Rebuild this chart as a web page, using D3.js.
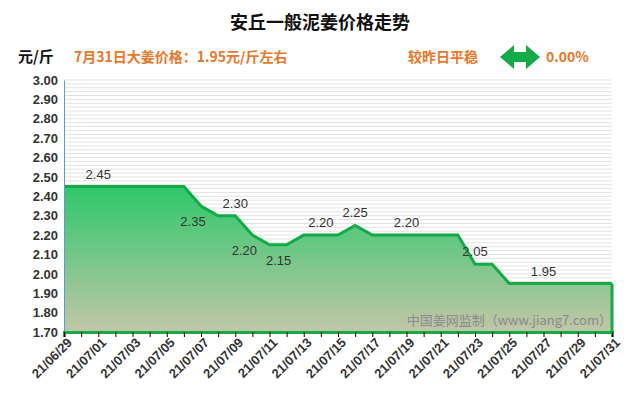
<!DOCTYPE html>
<html><head><meta charset="utf-8">
<script src="https://cdn.jsdelivr.net/npm/d3@7"></script>
<style>body{margin:0;background:#fff;font-family:"Noto Sans CJK SC","Microsoft YaHei",sans-serif}</style>
</head><body>
<svg id="chart" width="640" height="410"></svg>
<script>
const dates = ["21/06/29","21/06/30","21/07/01","21/07/02","21/07/03","21/07/04","21/07/05","21/07/06","21/07/07","21/07/08","21/07/09","21/07/10","21/07/11","21/07/12","21/07/13","21/07/14","21/07/15","21/07/16","21/07/17","21/07/18","21/07/19","21/07/20","21/07/21","21/07/22","21/07/23","21/07/24","21/07/25","21/07/26","21/07/27","21/07/28","21/07/29","21/07/30","21/07/31"];
const prices = [2.45,2.45,2.45,2.45,2.45,2.45,2.45,2.45,2.35,2.30,2.30,2.20,2.15,2.15,2.20,2.20,2.20,2.25,2.20,2.20,2.20,2.20,2.20,2.20,2.05,2.05,1.95,1.95,1.95,1.95,1.95,1.95,1.95];
// which points carry a value label, and whether it sits above (-1) or below (1)
const labelIdx = [2,8,10,11,13,15,17,20,24,28];
const labelSide = [-1,1,-1,1,1,-1,-1,-1,-1,-1];
const yTicks = d3.range(1.70, 3.001, 0.10);

const svg = d3.select("#chart");
const margin = {top:80, right:28, bottom:78, left:64};
const width = 640 - margin.left - margin.right, height = 410 - margin.top - margin.bottom;
const x = d3.scaleLinear().domain([0, dates.length - 1]).range([0, width]);
const y = d3.scaleLinear().domain([1.70, 3.00]).range([height, 0]);
const chart = svg.append("g").attr("transform", `translate(${margin.left},${margin.top})`);

const grad = svg.append("defs").append("linearGradient").attr("id","g").attr("x1",0).attr("x2",0).attr("y1",0).attr("y2",1);
grad.append("stop").attr("offset","0%").attr("stop-color","#2ec86a");
grad.append("stop").attr("offset","100%").attr("stop-color","#c2c6a8");

// faint minor grid
chart.append("g").selectAll("line").data(d3.range(1.72, 3.001, 0.02)).join("line")
  .attr("x1",0).attr("x2",width).attr("y1",d=>y(d)).attr("y2",d=>y(d))
  .attr("stroke","#e2e2e2").attr("stroke-width",1);

const area = d3.area().x((d,i)=>x(i)).y0(height).y1(d=>y(d));
chart.append("path").datum(prices).attr("d",area).attr("fill","url(#g)");
const line = d3.line().x((d,i)=>x(i)).y(d=>y(d));
chart.append("path").datum(prices).attr("d",line).attr("fill","none").attr("stroke","#13aa48").attr("stroke-width",3);
chart.append("line").attr("x1",width).attr("x2",width).attr("y1",y(prices[prices.length-1])).attr("y2",height).attr("stroke","#13aa48").attr("stroke-width",3);

chart.append("g").selectAll("text").data(labelIdx).join("text")
  .attr("x",(d,i)=>x(d) + (labelSide[i] > 0 ? -8 : 0)).attr("y",(d,i)=>y(prices[d]) + (labelSide[i] < 0 ? -8 : 20))
  .attr("text-anchor","middle").attr("font-size",13).attr("fill","#333")
  .attr("font-family","Liberation Sans, Arial")
  .text(d=>prices[d].toFixed(2));

const yAxis = chart.append("g").call(d3.axisLeft(y).tickValues(yTicks).tickFormat(d3.format(".2f")).tickSize(0).tickPadding(6));
yAxis.select(".domain").attr("stroke","#5b9bd5");
yAxis.selectAll("text").attr("font-size",13).attr("font-weight","bold").attr("fill","#333").attr("font-family","Liberation Sans, Arial");

const xAxis = chart.append("g").attr("transform",`translate(0,${height})`)
  .call(d3.axisBottom(x).tickValues(d3.range(dates.length)).tickFormat(i=>i%2===0?dates[i]:"").tickSize(5));
xAxis.select(".domain").attr("stroke","#13aa48").attr("stroke-width",3);
xAxis.selectAll("text").attr("transform","rotate(-45)").attr("text-anchor","end").attr("dx","-2").attr("dy","6")
  .attr("font-size",13).attr("font-weight","bold").attr("fill","#333").attr("font-family","Liberation Sans, Arial");

chart.append("text").attr("x",width).attr("y",height-7).attr("text-anchor","end")
  .attr("font-size",13).attr("fill","#8a8a8a").text("中国姜网监制（www.jiang7.com）");

svg.append("text").attr("x",320).attr("y",29).attr("text-anchor","middle").attr("font-size",18).attr("font-weight","bold").attr("fill","#111").text("安丘一般泥姜价格走势");
svg.append("text").attr("x",18).attr("y",62).attr("font-size",15).attr("font-weight","bold").attr("fill","#111").text("元/斤");
svg.append("text").attr("x",74).attr("y",62).attr("font-size",14).attr("font-weight","bold").attr("fill","#e8782a").text("7月31日大姜价格：1.95元/斤左右");
svg.append("text").attr("x",408).attr("y",62).attr("font-size",14).attr("font-weight","bold").attr("fill","#e8782a").text("较昨日平稳");
svg.append("text").attr("x",546).attr("y",62).attr("font-size",14).attr("font-weight","bold").attr("fill","#e8782a").text("0.00%");
svg.append("path").attr("fill","#13aa48")
  .attr("d","M500,57 L514,45 L514,52 L526,52 L526,45 L540,57 L526,69 L526,62 L514,62 L514,69 Z");
</script>
</body></html>
